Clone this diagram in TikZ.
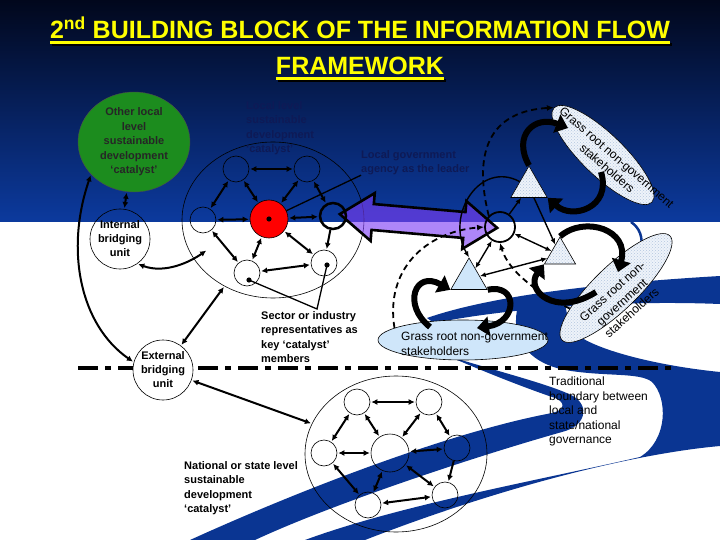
\documentclass[tikz,border=0pt]{standalone}
\usepackage{fontspec}
\setmainfont{Liberation Sans}
\usetikzlibrary{arrows.meta,shapes.geometric,patterns}

\definecolor{navytop}{HTML}{01071C}
\definecolor{navymid}{HTML}{0C3A9E}
\definecolor{bandblue}{HTML}{0A3592}
\definecolor{catgreen}{HTML}{1C8C1E}
\definecolor{leadred}{HTML}{FF0000}
\definecolor{agentpurple}{HTML}{7D3CF4}
\definecolor{paleblue}{HTML}{CFE6FA}
\definecolor{hatchbg}{HTML}{EEF3FA}
\definecolor{hatchfg}{HTML}{B4C6DE}
\definecolor{titleyellow}{HTML}{FFFF00}
\definecolor{inkblue}{HTML}{0E1A56}

\begin{document}
\begin{tikzpicture}[
        x=1pt, y=-1pt,
        unit/.style={circle, draw, line width=0.6pt, minimum size=26pt, inner sep=0pt},
        core/.style={unit, minimum size=38pt},
        catring/.style={ellipse, draw, line width=0.6pt, minimum width=182pt, minimum height=156pt, inner sep=0pt},
        bridge/.style={circle, draw, line width=0.6pt, minimum size=60pt, inner sep=0pt, align=center, font=\fontsize{11}{14}\selectfont\bfseries},
        boldtext/.style={anchor=north west, align=left, inner sep=0pt, font=\fontsize{11}{14.5}\selectfont\bfseries},
        plaintext/.style={anchor=north west, align=left, inner sep=0pt, font=\fontsize{12}{14.5}\selectfont},
        hatched/.style={preaction={fill=hatchbg}, pattern=crosshatch dots, pattern color=hatchfg},
        tribox/.style={regular polygon, regular polygon sides=3, draw, line width=0.6pt, inner sep=0pt},
        grassbox/.style={ellipse, draw, line width=0.6pt, inner sep=0pt},
        link/.style={{Latex[length=6pt,width=6pt]}-{Latex[length=6pt,width=6pt]}, line width=2pt, shorten <=1pt, shorten >=1pt},
        onelink/.style={-{Latex[length=6pt,width=6pt]}, line width=2pt, shorten >=1pt},
        thinarr/.style={-{Latex[length=6pt,width=5pt]}, line width=1.4pt},
        thindbl/.style={{Latex[length=6pt,width=5pt]}-{Latex[length=6pt,width=5pt]}, line width=1.4pt},
        cycarr/.style={-{Triangle[length=12pt,width=19pt]}, line width=6pt},
        dasharr/.style={-{Latex[length=7pt,width=6pt]}, line width=1.8pt, dash pattern=on 6pt off 4pt},
        agentarr/.style={fill=agentpurple, fill opacity=0.62, draw=black, line width=2.6pt, line join=miter},
        headline/.style={anchor=base, inner sep=0pt, font=\fontsize{25}{30}\selectfont\bfseries}
    ]
    \useasboundingbox (0,0) rectangle (720,540);
    \shade[top color=navytop, bottom color=navymid] (0,0) rectangle (720,222);
    \fill[white] (0,222) rectangle (720,540);

    % swooshes
    \fill[bandblue] (427,318) .. controls (490,296) and (600,283) .. (720,276) -- (720,304) .. controls (620,300) and (510,308) .. (434,323) -- cycle;
    \fill[bandblue] (518,306) .. controls (510,335) and (525,362) .. (565,370)
        .. controls (605,377) and (640,372) .. (652,382)
        .. controls (668,398) and (668,440) .. (640,457)
        .. controls (540,480) and (400,505) .. (305,540)
        -- (365,540)
        .. controls (480,495) and (620,455) .. (720,446)
        -- (720,372)
        .. controls (660,366) and (605,352) .. (582,338)
        .. controls (570,330) and (566,315) .. (565,300) -- cycle;
    \fill[bandblue] (448,356) .. controls (500,372) and (552,385) .. (573,396)
        .. controls (590,406) and (586,426) .. (562,432)
        .. controls (470,458) and (330,505) .. (255,540)
        -- (190,540)
        .. controls (300,490) and (450,432) .. (552,413)
        .. controls (566,410) and (566,401) .. (552,397)
        .. controls (520,386) and (480,370) .. (448,356) -- cycle;
    \draw[bandblue, line width=2.5pt] (631,222) .. controls (640,228) and (643,238) .. (641,248);

    % boundary between local and state level
    \draw[line width=4.5pt, dash pattern=on 20pt off 7pt on 6pt off 7pt] (78,368) -- (675,368);

    \node[catring] (lcat) at (273,220) {};
    \node[catring] (ncat) at (396,454) {};

    % lead agency arrow
    \begin{scope}[shift={(418.5,221)}, rotate=-5]
        \draw[agentarr] (-79,0) -- (-46,-24) -- (-46,-13) -- (46,-13) -- (46,-24) -- (79,0) -- (46,24) -- (46,13) -- (-46,13) -- (-46,24) -- cycle;
    \end{scope}

    % local catalyst
    \node[unit] (ltl) at (236,169) {};
    \node[unit] (ltr) at (307,169) {};
    \node[unit] (lle) at (203,220) {};
    \node[core, fill=leadred] (lred) at (269,219) {};
    \node[unit, line width=2.5pt] (lri) at (333,216) {};
    \node[unit] (lbl) at (247,273) {};
    \node[unit] (lbr) at (324,263) {};
    \draw[link] (ltl) -- (ltr);
    \draw[link] (ltl) -- (lle);
    \draw[link] (ltl) -- (lred);
    \draw[link] (ltr) -- (lred);
    \draw[link] (ltr) -- (lri);
    \draw[link] (lle) -- (lred);
    \draw[link] (lred) -- (lri);
    \draw[link] (lle) -- (lbl);
    \draw[link] (lred) -- (lbl);
    \draw[link] (lred) -- (lbr);
    \draw[onelink] (lri) -- (lbr);
    \draw[link] (lbl) -- (lbr);
    \coordinate (lbldot) at (249,280);
    \coordinate (lbrdot) at (327,265);
    \coordinate (secpt) at (317,309);
    \fill (lred) circle (2.6pt);
    \fill (lbldot) circle (2.6pt);
    \fill (lbrdot) circle (2.6pt);
    \draw[line width=1.3pt] (lbldot) -- (secpt) -- (lbrdot);

    % national catalyst
    \node[unit] (ntl) at (357,402) {};
    \node[unit] (ntr) at (429,402) {};
    \node[unit] (nle) at (324,453) {};
    \node[core] (nce) at (390,453) {};
    \node[unit] (nri) at (457,448) {};
    \node[unit] (nbl) at (368,505) {};
    \node[unit] (nbr) at (445,495) {};
    \draw[link] (ntl) -- (ntr);
    \draw[link] (ntl) -- (nle);
    \draw[link] (ntl) -- (nce);
    \draw[link] (ntr) -- (nce);
    \draw[link] (ntr) -- (nri);
    \draw[link] (nle) -- (nce);
    \draw[link] (nce) -- (nri);
    \draw[link] (nle) -- (nbl);
    \draw[link] (nce) -- (nbl);
    \draw[link] (nce) -- (nbr);
    \draw[onelink] (nri) -- (nbr);
    \draw[link] (nbl) -- (nbr);

    % bridging units
    \node[ellipse, fill=catgreen, draw=black!70, line width=0.4pt, minimum width=112pt, minimum height=100pt, inner sep=0pt, align=center, text=black!85, font=\fontsize{11}{14.5}\selectfont\bfseries] (ocat) at (134,142) {Other local\\level\\sustainable\\development\\‘catalyst’};
    \node[bridge] (ibu) at (120,239) {Internal\\bridging\\unit};
    \node[bridge, fill=white] (ebu) at (163,370) {External\\bridging\\unit};
    \coordinate (lin) at (207,250);
    \draw[link] (ocat) -- (ibu);
    \draw[link] (ibu.-55) .. controls (165,274) and (190,262) .. (lin);
    \draw[link] (ocat.217) .. controls (65,250) and (80,325) .. (ebu.165);
    \draw[link] (ebu) -- (lcat);
    \draw[link] (ebu) -- (ncat);

    % grass root stakeholders
    \node[grassbox, hatched, minimum width=136pt, minimum height=42pt, rotate=-44] (grass1) at (603,155) {};
    \node[grassbox, hatched, minimum width=150pt, minimum height=44pt, rotate=44] (grass2) at (616,288) {};
    \node[grassbox, fill=paleblue, minimum width=170pt, minimum height=40pt] (grass3) at (463,340) {};
    \node[rotate=-41, align=center, inner sep=0pt, font=\fontsize{12}{14.5}\selectfont] (grass1txt) at (612,163) {Grass root non-government\\stakeholders};
    \node[rotate=42, align=center, inner sep=0pt, font=\fontsize{12}{14.5}\selectfont] (grass2txt) at (622,302) {Grass root non-\\government\\stakeholders};
    \node[plaintext] (grass3txt) at (401,332) {Grass root non-government\\stakeholders};

    \node[tribox, hatched, minimum size=42pt] (tri1) at (529,187) {};
    \node[tribox, hatched, minimum size=36pt] (tri2) at (560,255) {};
    \node[tribox, fill=paleblue, minimum size=42pt] (tri3) at (469,279) {};
    \node[unit, minimum size=30pt, line width=1.8pt] (hub) at (500,227) {};

    \draw[thinarr] (hub) -- (tri1);
    \draw[thindbl] (hub) -- (tri2);
    \draw[thindbl] (hub) -- (tri3);
    \draw[thindbl] (tri3) -- (tri2);
    \draw[thinarr] (tri1) -- (tri2);
    \draw[thinarr] (tri1.side 1) .. controls (480,160) and (445,215) .. (tri3.corner 1);

    \draw[dasharr] (hub.north west) .. controls (476,165) and (480,112) .. (grass1.west);
    \draw[dasharr] (grass2.160) .. controls (535,292) and (508,270) .. (hub.south);
    \draw[dasharr] (grass3.170) .. controls (385,270) and (425,232) .. (hub.west);

    \coordinate (g1a) at (568,128);
    \coordinate (g1b) at (601,172);
    \coordinate (g2a) at (618,272);
    \coordinate (g2b) at (596,292);
    \coordinate (g3a) at (430,327);
    \coordinate (g3b) at (477,328);
    \draw[cycarr] (tri1.corner 1) .. controls (512,135) and (535,115) .. (g1a);
    \draw[cycarr] (g1b) .. controls (612,208) and (572,220) .. (tri1.corner 3);
    \draw[cycarr] (tri2.corner 1) .. controls (585,215) and (630,230) .. (g2a);
    \draw[cycarr] (g2b) .. controls (555,318) and (525,290) .. (tri2.corner 2);
    \draw[cycarr] (g3a) .. controls (402,305) and (415,270) .. (tri3.corner 2);
    \draw[cycarr] (tri3.corner 3) .. controls (518,283) and (518,322) .. (g3b);

    % labels
    \node[boldtext, text=inkblue] (lvl) at (246,101) {Local level\\sustainable\\development\\‘catalyst’};
    \node[boldtext, text=inkblue] (lgov) at (361,150) {Local government\\agency as the leader};
    \draw[line width=1.3pt] (lred) -- (lgov.south west);
    \node[boldtext] (sector) at (261,311) {Sector or industry\\representatives as\\key ‘catalyst’\\members};
    \node[boldtext] (natl) at (184,461) {National or state level\\sustainable\\development\\‘catalyst’};
    \node[plaintext] (trad) at (549,377) {Traditional\\boundary between\\local and\\state/national\\governance};

    % title
    \node[headline, text=titleyellow] (head1) at (360,39) {2\textsuperscript{nd} BUILDING BLOCK OF THE INFORMATION FLOW};
    \node[headline, text=titleyellow] (head2) at (360,75) {FRAMEWORK};
    \draw[line width=2.2pt] ([xshift=2pt, yshift=-5.5pt]head1.base west) -- ([xshift=2pt, yshift=-5.5pt]head1.base east);
    \draw[line width=2.2pt] ([xshift=2pt, yshift=-5.5pt]head2.base west) -- ([xshift=2pt, yshift=-5.5pt]head2.base east);
    \draw[titleyellow, line width=2.2pt] ([yshift=-3.5pt]head1.base west) -- ([yshift=-3.5pt]head1.base east);
    \draw[titleyellow, line width=2.2pt] ([yshift=-3.5pt]head2.base west) -- ([yshift=-3.5pt]head2.base east);
\end{tikzpicture}
\end{document}
